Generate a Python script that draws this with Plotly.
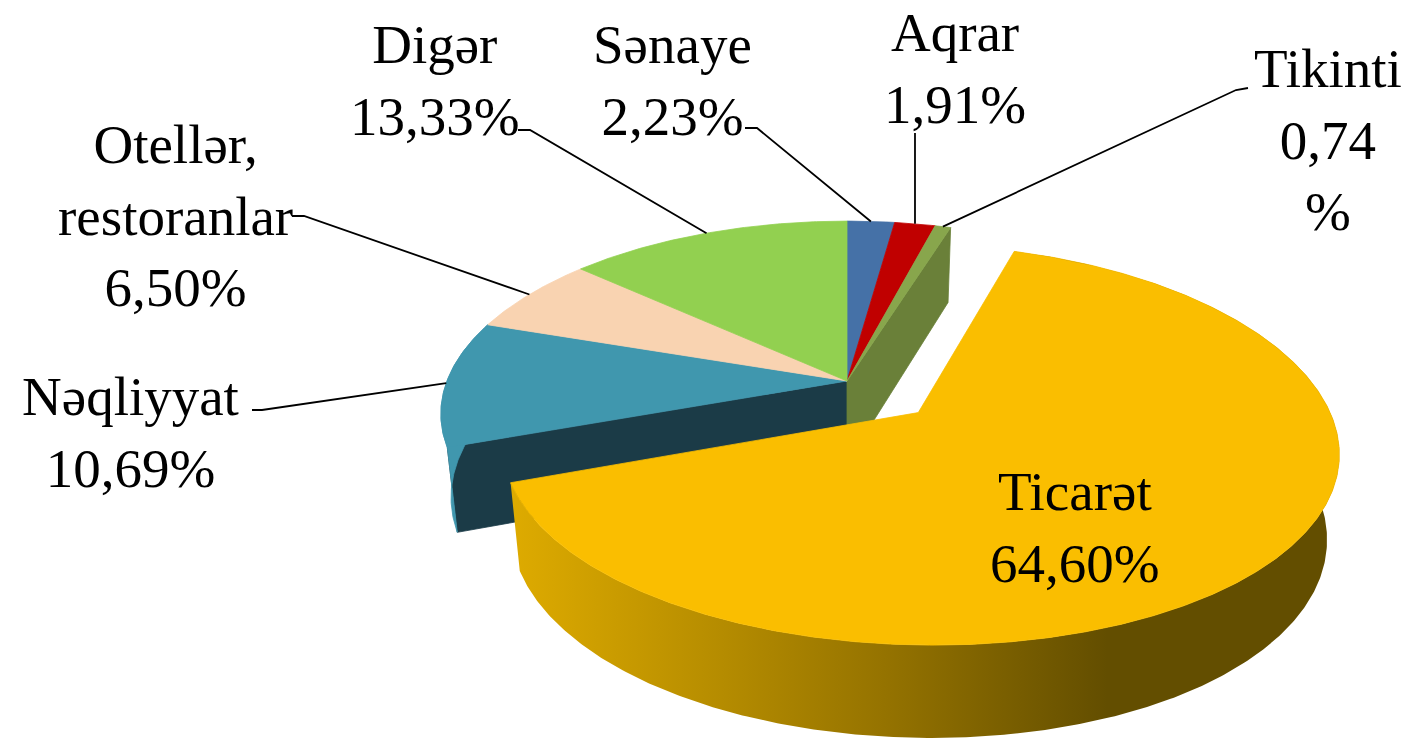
import numpy as np
import plotly.graph_objects as go

# ---------------- data ----------------
names = ["Sənaye", "Aqrar", "Tikinti", "Ticarət", "Nəqliyyat", "Otellər,<br>restoranlar", "Digər"]
values = [2.23, 1.91, 0.74, 64.60, 10.69, 6.50, 13.33]

# ---------------- styles ----------------
top_colors = ["#4571A7", "#C00000", "#88A64C", "#FABE00", "#4097AE", "#F9D3B1", "#92D050"]
wall_colors = ["#2F4F75", "#860000", "#6A8039", "#9A7600", "#1B3B47", "#B89A80", "#6A9A3A"]
exploded = "Ticarət"
explode_dist = 0.24
pct_wrap = ["Tikinti"]  # labels whose % sign wraps to its own line
# label block centres and leader attach points (pixels)
label_pos = {
    "Sənaye": (672, 80), "Aqrar": (955, 68), "Tikinti": (1328, 140),
    "Ticarət": (1075, 527), "Nəqliyyat": (130, 432),
    "Otellər,<br>restoranlar": (175, 216), "Digər": (435, 80),
}
leader_start = {
    "Sənaye": [(745, 128), (757, 128)], "Aqrar": [(None, 133)],
    "Tikinti": [(1248, 88), (1236, 90)], "Nəqliyyat": [(252, 410), (262, 410)],
    "Otellər,<br>restoranlar": [(292, 216), (304, 216)], "Digər": [(518, 130), (530, 130)],
}
FONT = "Liberation Serif"
FSIZE = 55

# ---------------- projection (pseudo-3D perspective) ----------------
CX, CY = 847, 381
A, KX = 400, 0.173
B, KY = 185, 0.157
H, KH = 82, 0.10
LEAN = 0.975  # bottom edge pulled slightly toward the centre (perspective)


def proj(X, Z, down=False):
    X = np.asarray(X, float)
    Z = np.asarray(Z, float)
    sx = CX + A * X / (1 + KX * Z)
    sy = CY - B * Z / (1 + KY * Z)
    if down:
        sy = sy + H / (1 + KH * Z)
        sx = CX + (sx - CX) * LEAN
    return sx, sy


total = sum(values)
cum = np.concatenate([[0], np.cumsum(values)])
ang0 = np.radians(360 * cum[:-1] / total)
ang1 = np.radians(360 * cum[1:] / total)

fig = go.Figure()


def poly(xs, ys, color, lw=0.8, grad=None):
    kw = dict(x=list(xs) + [xs[0]], y=list(ys) + [ys[0]], mode="lines", fill="toself",
              hoverinfo="skip", showlegend=False)
    kw["fillcolor"] = color
    if grad is not None:
        kw["fillgradient"] = grad
        kw["line"] = dict(width=0)
    else:
        kw["line"] = dict(color=color, width=lw)
    fig.add_trace(go.Scatter(**kw))


def slice_geom(i):
    off = explode_dist if names[i] == exploded else 0.0
    mid = (ang0[i] + ang1[i]) / 2
    ox, oz = off * np.sin(mid), off * np.cos(mid)
    t = np.linspace(ang0[i], ang1[i], max(8, int(np.degrees(ang1[i] - ang0[i]) * 2)))
    return ox, oz, t


n = len(values)
ie = names.index(exploded)

# --- radial cut faces of the exploded slice's neighbours (visible through the gap)
for i, edge in (((ie + 1) % n, ang0[(ie + 1) % n]), ((ie - 1) % n, ang1[(ie - 1) % n])):
    ox, oz, t = slice_geom(i)
    Xs = [ox, ox + np.sin(edge)]
    Zs = [oz, oz + np.cos(edge)]
    tx, ty = proj(Xs, Zs)
    bx, by = proj(Xs, Zs, down=True)
    poly([tx[0], tx[1], bx[1], bx[0]], [ty[0], ty[1], by[1], by[0]], wall_colors[i])

# --- outer side walls of non-exploded slices that reach the front half
for i in range(n):
    if i == ie:
        continue
    ox, oz, t = slice_geom(i)
    if np.all(np.cos(t) > 0.02):
        continue
    X, Z = ox + np.sin(t), oz + np.cos(t)
    tx, ty = proj(X, Z)
    bx, by = proj(X, Z, down=True)
    poly(np.concatenate([tx, bx[::-1]]), np.concatenate([ty, by[::-1]]), top_colors[i])

# --- top faces of non-exploded slices
for i in range(n):
    if i == ie:
        continue
    ox, oz, t = slice_geom(i)
    X = np.concatenate([[ox], ox + np.sin(t)])
    Z = np.concatenate([[oz], oz + np.cos(t)])
    sx, sy = proj(X, Z)
    poly(sx, sy, top_colors[i])

# --- exploded slice: side with gradient, then top
ox, oz, t = slice_geom(ie)
X, Z = ox + np.sin(t), oz + np.cos(t)
tx, ty = proj(X, Z)
bx, by = proj(X, Z, down=True)
grad = dict(type="horizontal", start=float(tx.min()), stop=float(tx.max()),
            colorscale=[[0.0, "#DEAB00"], [0.23, "#B98F00"], [0.45, "#957300"],
                        [0.72, "#634E00"], [1.0, "#634E00"]])
poly(np.concatenate([tx, bx[::-1]]), np.concatenate([ty, by[::-1]]), "#B08800", grad=grad)
Xt = np.concatenate([[ox], X])
Zt = np.concatenate([[oz], Z])
sx, sy = proj(Xt, Zt)
poly(sx, sy, top_colors[ie])

# --- labels and leader lines
for i, nm in enumerate(names):
    pct = f"{values[i]:.2f}".replace(".", ",")
    txt = nm + "<br>" + (pct + "<br>%" if nm in pct_wrap else pct + "%")
    lx, ly = label_pos[nm]
    fig.add_annotation(x=lx, y=ly, xref="x", yref="y", text=txt, showarrow=False,
                       font=dict(family=FONT, size=FSIZE, color="#000000"),
                       xanchor="center", yanchor="middle", align="center")
    if nm in leader_start:
        mid = (ang0[i] + ang1[i]) / 2
        axp, ayp = proj(np.sin(mid), np.cos(mid))
        pts = [(p[0] if p[0] is not None else float(axp), p[1]) for p in leader_start[nm]]
        pts.append((float(axp), float(ayp)))
        fig.add_trace(go.Scatter(x=[p[0] for p in pts], y=[p[1] for p in pts], mode="lines",
                                 line=dict(color="#000000", width=1.8), hoverinfo="skip",
                                 showlegend=False))

fig.update_layout(
    width=1414, height=740, margin=dict(l=0, r=0, t=0, b=0),
    paper_bgcolor="white", plot_bgcolor="white",
    xaxis=dict(range=[0, 1414], visible=False, fixedrange=True),
    yaxis=dict(range=[740, 0], visible=False, fixedrange=True),
)
fig.write_html("out.html", config={"displayModeBar": False},
               post_script="document.body.style.margin='0px';document.body.style.overflow='hidden';")
